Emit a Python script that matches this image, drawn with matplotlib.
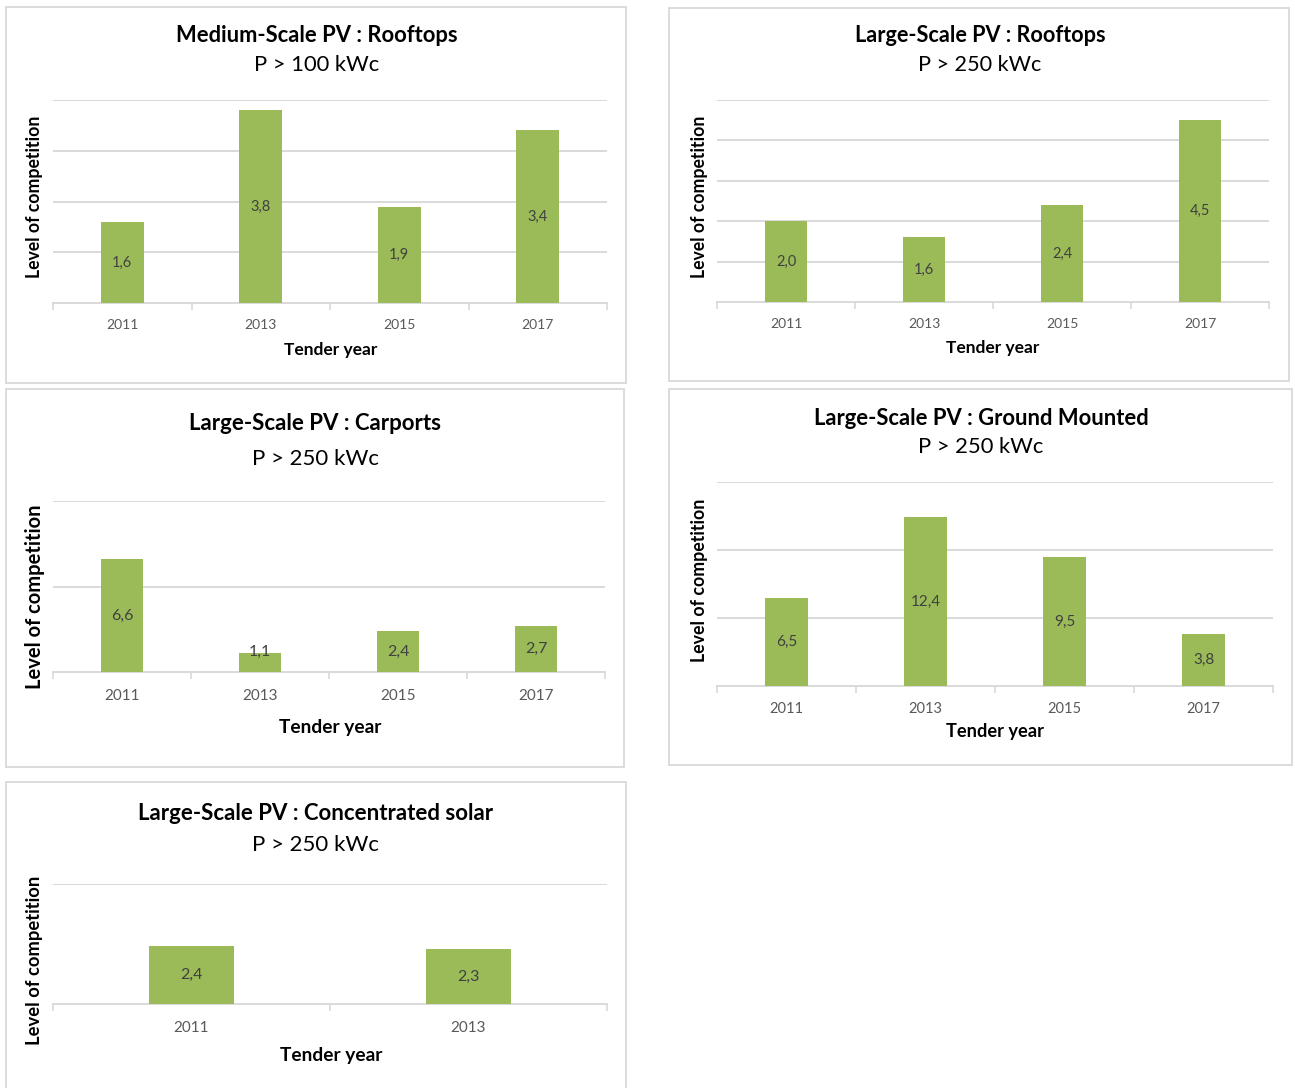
import matplotlib
matplotlib.use("Agg")
import matplotlib.pyplot as plt
from matplotlib.patches import Rectangle

plt.rcParams['font.family'] = ['Lato', 'DejaVu Sans']

W, H = 1295, 1088
fig = plt.figure(figsize=(W / 100, H / 100), dpi=100)
fig.patch.set_facecolor('white')

# ---- data ----
titles = ["Medium-Scale PV : Rooftops", "Large-Scale PV : Rooftops",
          "Large-Scale PV : Carports", "Large-Scale PV : Ground Mounted",
          "Large-Scale PV : Concentrated solar"]
subtitles = ["P > 100 kWc", "P > 250 kWc", "P > 250 kWc", "P > 250 kWc", "P > 250 kWc"]
years_4 = ["2011", "2013", "2015", "2017"]
years_2 = ["2011", "2013"]
med_rooftops = [1.6, 3.8, 1.9, 3.4]
large_rooftops = [2.0, 1.6, 2.4, 4.5]
carports = [6.6, 1.1, 2.4, 2.7]
ground_mounted = [6.5, 12.4, 9.5, 3.8]
concentrated = [2.4, 2.3]
y_max = [4, 5, 10, 15, 5]
y_step = [1, 1, 5, 5, 5]

series = [(years_4, med_rooftops), (years_4, large_rooftops), (years_4, carports),
          (years_4, ground_mounted), (years_2, concentrated)]

# ---- layout (pixels) ----
boxes = [(6, 7, 626, 383), (669, 8, 1289, 381), (6, 389, 624, 767),
         (669, 389, 1292, 765), (6, 782, 626, 1100)]
plots = [(53, 100, 607, 303), (717, 100, 1269, 302), (53, 501, 605, 672),
         (717, 482, 1273, 686), (53, 884, 607, 1004)]
title_pos = [(317, 36, 65), (980, 36, 65), (315, 424, 459), (981, 418, 447), (316, 813, 845)]
ylab_pos = [(35, 197), (699, 197), (35, 597), (699, 580), (35, 960)]
xlab_pos = [(331, 350), (993, 348), (330, 728), (995, 732), (331, 1055)]
scale = [1.0, 1.0, 1.1, 1.05, 1.1]
ylab_fs = [12.7, 12.7, 14.5, 12.8, 13.2]
title_fs = [15.8, 15.6, 16, 15.8, 16]
tick_pad = [11.5, 11.5, 12.5, 11.5, 12]

BAR = '#9BBB59'
GRID = '#D9D9D9'


def fx(x):
    return x / W


def fy(y):
    return 1 - y / H


for i in range(5):
    cats, vals = series[i]
    s = scale[i]
    bx0, by0, bx1, by1 = boxes[i]
    fig.patches.append(Rectangle((fx(bx0), fy(by1)), fx(bx1 - bx0), (by1 - by0) / H,
                                 transform=fig.transFigure, fill=False,
                                 edgecolor=GRID, linewidth=1.3, zorder=0))
    px0, py0, px1, py1 = plots[i]
    ax = fig.add_axes([fx(px0), fy(py1), fx(px1 - px0), (py1 - py0) / H])
    n = len(cats)
    xs = list(range(n))
    ax.bar(xs, vals, width=0.31, color=BAR, zorder=3)
    ax.set_xlim(-0.5, n - 0.5)
    ax.set_ylim(0, y_max[i])
    yt = list(range(0, y_max[i] + 1, y_step[i]))
    for t in yt[1:]:
        ax.axhline(t, color=GRID, linewidth=1.4, zorder=1)
    for sp in ['top', 'right', 'left']:
        ax.spines[sp].set_visible(False)
    ax.spines['bottom'].set_color(GRID)
    ax.spines['bottom'].set_linewidth(1.4)
    ax.set_yticks([])
    ax.set_xticks(xs)
    ax.set_xticklabels(cats, fontsize=10 * s, color='#595959')
    ax.tick_params(axis='x', which='major', length=0, pad=tick_pad[i])
    ax.set_xticks([k - 0.5 for k in range(n + 1)], minor=True)
    ax.tick_params(axis='x', which='minor', length=5, width=1.2, color=GRID)
    for x, v in zip(xs, vals):
        ly = max(v / 2, y_max[i] * 0.12)
        ax.text(x, ly, f"{v:.1f}".replace('.', ','), ha='center', va='center',
                fontsize=10.5 * s, color='#404040', zorder=4)
    tx, ty, sy = title_pos[i]
    fig.text(fx(tx), fy(ty), titles[i], ha='center', va='center',
             fontsize=title_fs[i], fontweight='bold', color='#000000')
    fig.text(fx(tx), fy(sy), subtitles[i], ha='center', va='center',
             fontsize=title_fs[i], color='#000000')
    lx, lyy = ylab_pos[i]
    fig.text(fx(lx), fy(lyy), "Level of competition", ha='center', va='center',
             rotation=90, fontsize=ylab_fs[i], fontweight='bold', color='#000000')
    xx, xy = xlab_pos[i]
    fig.text(fx(xx), fy(xy), "Tender year", ha='center', va='center',
             fontsize=12.5 * s, fontweight='bold', color='#000000')

fig.savefig("out.png", dpi=100, facecolor='white')
